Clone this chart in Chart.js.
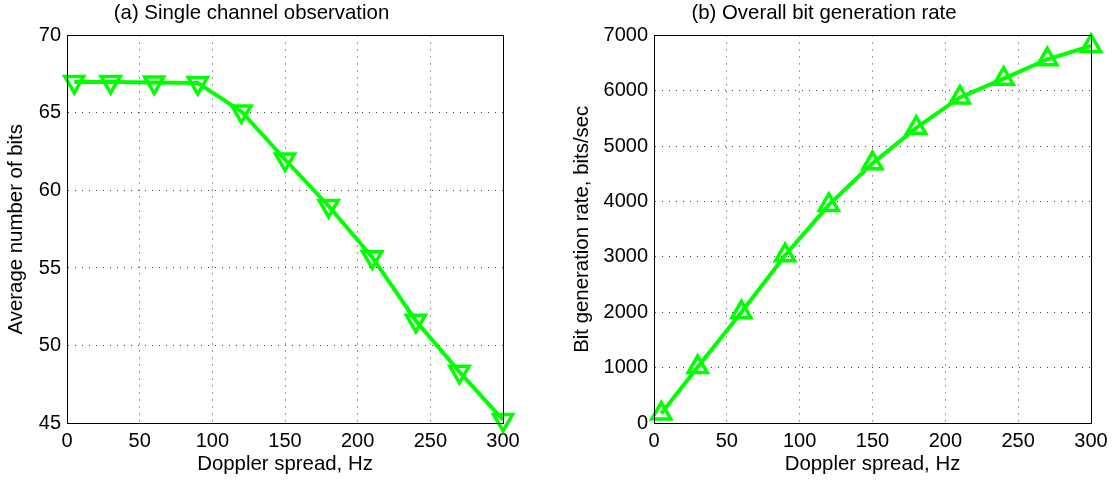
<!DOCTYPE html>
<html>
<head>
<meta charset="utf-8">
<script src="https://cdn.jsdelivr.net/npm/chart.js@4/dist/chart.umd.min.js"></script>
<style>
	html, body { margin: 0; padding: 0; background: #fff; }
	#wrap { position: relative; width: 1114px; height: 482px; }
	canvas { position: absolute; top: 0; }
	#chartA { left: 0; }
	#chartB { left: 557px; }
</style>
</head>
<body>
<div id="wrap">
	<canvas id="chartA" width="557" height="482"></canvas>
	<canvas id="chartB" width="557" height="482"></canvas>
</div>
<script>
// data
let dopplerHz = [5, 30, 60, 90, 120, 150, 180, 210, 240, 270, 300];
let avgBits = [67.0, 67.0, 66.97, 66.93, 65.1, 62.0, 59.0, 55.7, 51.6, 48.3, 45.2];
let bitRate = [170, 1010, 2000, 3030, 3940, 4690, 5330, 5880, 6220, 6570, 6810];

let xTicks = [0, 50, 100, 150, 200, 250, 300];
let yTicksA = [45, 50, 55, 60, 65, 70];
let yTicksB = [0, 1000, 2000, 3000, 4000, 5000, 6000, 7000];

Chart.defaults.font.family = "'Liberation Sans', Arial, sans-serif";
Chart.defaults.font.size = 20;
Chart.defaults.color = "#000";

// solid box round the plot area, like matlab's "box on"
let boxPlugin = {
	id: "box",
	afterDraw: function(chart){
		let a = chart.chartArea;
		let ctx = chart.ctx;
		ctx.save();
		ctx.strokeStyle = "#000";
		ctx.lineWidth = 1;
		ctx.strokeRect(Math.round(a.left) + 0.5, Math.round(a.top) + 0.5, Math.round(a.right - a.left), Math.round(a.bottom - a.top));
		ctx.restore();
	}
};

function points(xs, ys){
	let arr = [];
	for(let i in xs){
		arr.push({x: xs[i], y: ys[i]});
	}
	return arr;
}

// plain numbers, no thousands separator
function plainLabel(v){
	return String(v);
}

function makeChart(id, opts){
	let ticksFor = function(list){
		return function(scale){
			scale.ticks = list.map(function(v){ return {value: v}; });
		};
	};
	return new Chart(document.getElementById(id), {
		type: "line",
		data: {
			datasets: [{
				data: points(dopplerHz, opts.values),
				borderColor: "#00ff00",
				backgroundColor: "rgba(0,0,0,0)",
				borderWidth: 4,
				pointStyle: "triangle",
				pointRotation: opts.rotation,
				pointRadius: 11,
				pointBorderWidth: 3.5,
				pointBorderColor: "#00ff00",
				pointBackgroundColor: "rgba(0,0,0,0)",
				tension: 0,
				clip: false
			}]
		},
		options: {
			animation: false,
			responsive: false,
			events: [],
			layout: {padding: {left: 0, right: opts.padRight, top: 0, bottom: 0}},
			plugins: {
				legend: {display: false},
				tooltip: {enabled: false},
				title: {
					display: true,
					text: opts.title,
					font: {size: 20.4, weight: "normal"},
					padding: {top: 1, bottom: 10}
				}
			},
			scales: {
				x: {
					type: "linear",
					min: 0,
					max: 300,
					afterBuildTicks: ticksFor(xTicks),
					afterFit: function(scale){ scale.height = 59; },
					ticks: {padding: 6, maxRotation: 0, autoSkip: false, callback: plainLabel},
					grid: {color: "#444", lineWidth: 1, drawTicks: false},
					border: {color: "#000", dash: [1, 6]},
					title: {display: true, text: "Doppler spread, Hz", font: {size: 20.4}, padding: {top: 0, bottom: 5}}
				},
				y: {
					min: opts.yMin,
					max: opts.yMax,
					afterBuildTicks: ticksFor(opts.yTicks),
					afterFit: function(scale){ scale.width = opts.yWidth; },
					ticks: {padding: 6, autoSkip: false, callback: plainLabel},
					grid: {color: "#444", lineWidth: 1, drawTicks: false},
					border: {color: "#000", dash: [1, 6]},
					title: {display: true, text: opts.yTitle, font: {size: 20.4}, padding: {top: opts.yTitlePad, bottom: 0}}
				}
			}
		},
		plugins: [boxPlugin]
	});
}

makeChart("chartA", {
	title: "(a) Single channel observation",
	yTitle: "Average number of bits",
	values: avgBits,
	rotation: 180,
	yMin: 45, yMax: 70, yTicks: yTicksA,
	yWidth: 67, yTitlePad: 4, padRight: 54
});

makeChart("chartB", {
	title: "(b) Overall bit generation rate",
	yTitle: "Bit generation rate, bits/sec",
	values: bitRate,
	rotation: 0,
	yMin: 0, yMax: 7000, yTicks: yTicksB,
	yWidth: 97, yTitlePad: 13, padRight: 23
});
</script>
</body>
</html>
